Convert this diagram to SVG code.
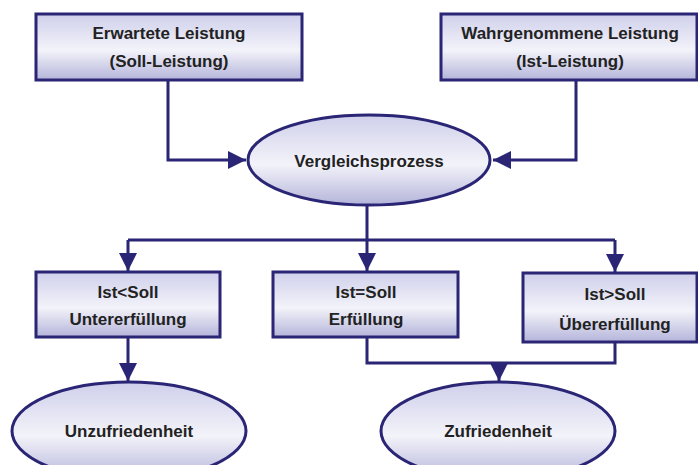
<svg xmlns="http://www.w3.org/2000/svg" width="698" height="465" viewBox="0 0 698 465">
<defs>
<linearGradient id="g" x1="0" y1="0" x2="0" y2="1">
<stop offset="0" stop-color="#cfcfeb"/>
<stop offset="0.55" stop-color="#f3f3fa"/>
<stop offset="1" stop-color="#b4b4da"/>
</linearGradient>
<marker id="ah" viewBox="0 0 10 10" refX="10" refY="5" markerWidth="6" markerHeight="6" orient="auto" markerUnits="strokeWidth">
<path d="M0,0 L10,5 L0,10 z" fill="#2a2575"/>
</marker>
<style>
.n{fill:url(#g);stroke:#2a2575;stroke-width:3}
.t{font-family:"Liberation Sans",Arial,sans-serif;font-weight:bold;font-size:17px;fill:#222222;text-anchor:middle}
.c{fill:none;stroke:#2a2575;stroke-width:3}
</style>
</defs>
<rect width="698" height="465" fill="#ffffff"/>
<g id="connectors">
<path class="c" d="M168,80 V160 H246" marker-end="url(#ah)"/>
<path class="c" d="M576,80 V160 H493" marker-end="url(#ah)"/>
<path class="c" d="M367,205 V240"/>
<path class="c" d="M128,240 H615"/>
<path class="c" d="M128,240 V271" marker-end="url(#ah)"/>
<path class="c" d="M367,240 V271" marker-end="url(#ah)"/>
<path class="c" d="M615,240 V272" marker-end="url(#ah)"/>
<path class="c" d="M128,337 V381" marker-end="url(#ah)"/>
<path class="c" d="M367,337 V363 H615 V342"/>
<path class="c" d="M499,363 V381" marker-end="url(#ah)"/>
</g>
<g id="soll">
<rect class="n" x="36" y="14" width="266" height="66"/>
<text class="t" x="169" y="39">Erwartete Leistung</text>
<text class="t" x="169" y="67">(Soll-Leistung)</text>
</g>
<g id="ist">
<rect class="n" x="441" y="14" width="256" height="66"/>
<text class="t" x="570" y="39">Wahrgenommene Leistung</text>
<text class="t" x="570" y="67">(Ist-Leistung)</text>
</g>
<g id="vergleich">
<ellipse class="n" cx="369" cy="160" rx="121" ry="45"/>
<text class="t" x="369" y="167">Vergleichsprozess</text>
</g>
<g id="unter">
<rect class="n" x="36" y="272" width="184" height="65"/>
<text class="t" x="128" y="298">Ist&lt;Soll</text>
<text class="t" x="128" y="325">Untererfüllung</text>
</g>
<g id="erfuellung">
<rect class="n" x="273" y="272" width="185" height="65"/>
<text class="t" x="366" y="298">Ist=Soll</text>
<text class="t" x="366" y="325">Erfüllung</text>
</g>
<g id="ueber">
<rect class="n" x="523" y="273" width="174" height="69"/>
<text class="t" x="615" y="300">Ist&gt;Soll</text>
<text class="t" x="615" y="330">Übererfüllung</text>
</g>
<g id="unzufrieden">
<ellipse class="n" cx="129" cy="431" rx="117" ry="49"/>
<text class="t" x="129" y="437">Unzufriedenheit</text>
</g>
<g id="zufrieden">
<ellipse class="n" cx="498" cy="431" rx="117" ry="49"/>
<text class="t" x="498" y="437">Zufriedenheit</text>
</g>
</svg>
